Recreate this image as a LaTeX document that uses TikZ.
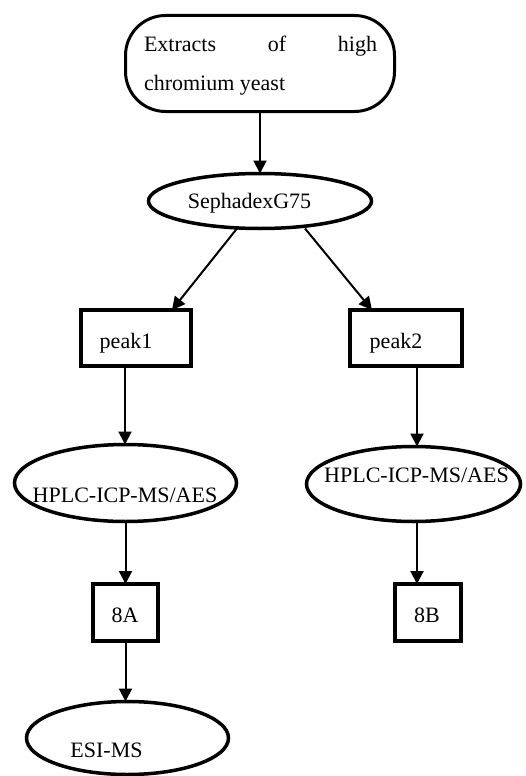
\documentclass[tikz,border=0pt]{standalone}
\usepackage{fontspec}
\setmainfont{Liberation Serif}
\usetikzlibrary{arrows.meta,shapes.geometric,calc}
\tikzset{
  shp/.style={draw=black, fill=white, inner sep=0pt, outer sep=0pt},
  ell/.style={shp, ellipse, line width=3.5pt},
  boxr/.style={shp, rectangle, line width=4pt},
  lbl/.style={inner sep=0pt, outer sep=0pt, font=\fontsize{22}{26}\selectfont},
  arr/.style={line width=2pt, -{Triangle[width=13pt,length=13pt]}}
}
\begin{document}
\begin{tikzpicture}[x=1pt,y=-1pt]
\useasboundingbox (0,0) rectangle (525,776);
% shapes
\node[shp, rectangle, rounded corners=40pt, line width=3pt, minimum width=269pt, minimum height=96pt] (top) at (260,63.5) {};
\node[ell, minimum width=223pt, minimum height=55pt] (seph) at (260,201) {};
\node[boxr, minimum width=110pt, minimum height=56pt] (peak1) at (136,338) {};
\node[boxr, minimum width=112pt, minimum height=56pt] (peak2) at (406,338) {};
\node[ell, minimum width=222pt, minimum height=77pt] (hplc1) at (125.5,483) {};
\node[ell, minimum width=214pt, minimum height=75pt] (hplc2) at (413.5,484) {};
\node[boxr, minimum width=65pt, minimum height=57pt] (a8) at (125.5,612.5) {};
\node[boxr, minimum width=66pt, minimum height=57pt] (b8) at (428,612.5) {};
\node[ell, minimum width=202pt, minimum height=73pt] (esi) at (127.5,738) {};
% texts
\node[lbl, anchor=base west] (t0a) at (144,52) {\hbox to 233pt{Extracts\hfill of\hfill high}};
\node[lbl, anchor=base west] (t0b) at (144,90) {chromium yeast};
\node[lbl, anchor=base] (t1) at (249.5,208) {SephadexG75};
\node[lbl, anchor=base] (t2) at (126,348) {peak1};
\node[lbl, anchor=base] (t3) at (396,348) {peak2};
\node[lbl, anchor=base] (t4) at (125,502) {HPLC-ICP-MS/AES};
\node[lbl, anchor=base] (t5) at (416.5,482) {HPLC-ICP-MS/AES};
\node[lbl, anchor=base] (t6) at (125,622) {8A};
\node[lbl, anchor=base] (t7) at (427,622) {8B};
\node[lbl, anchor=base] (t8) at (106.5,757) {ESI-MS};
% connector end points
\coordinate (s1) at ($(seph.south)+(-23,0)$);
\coordinate (s2) at ($(seph.south)+(45,0)$);
\coordinate (p1n) at ($(peak1.north)+(36,0)$);
\coordinate (p2n) at ($(peak2.north)+(-34,0)$);
\coordinate (p1s) at ($(peak1.south)+(-11,0)$);
\coordinate (p2s) at ($(peak2.south)+(11,0)$);
\coordinate (b8n) at ($(b8.north)+(-11,0)$);
% connectors
\draw[arr] (top.south) -- (seph.north);
\draw[arr] (s1) -- (p1n);
\draw[arr] (s2) -- (p2n);
\draw[arr] (p1s) -- (p1s |- hplc1.north);
\draw[arr] (p2s) -- (p2s |- hplc2.north);
\draw[arr] (hplc1.south) -- (hplc1.south |- a8.north);
\draw[arr] (b8n |- hplc2.south) -- (b8n);
\draw[arr] (a8.south) -- (a8.south |- esi.north);
\end{tikzpicture}
\end{document}
